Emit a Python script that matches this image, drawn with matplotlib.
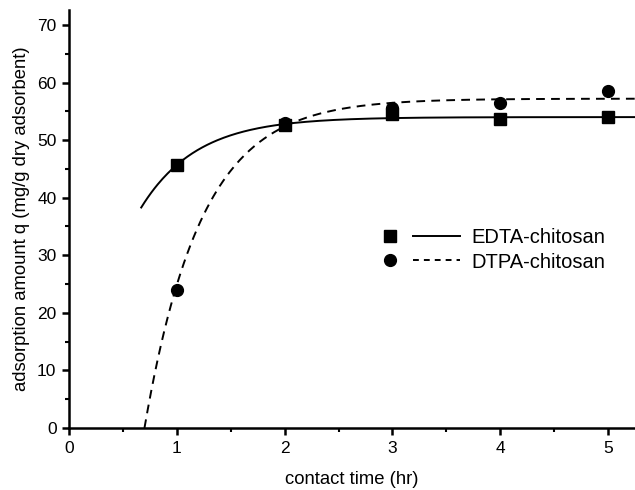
import numpy as np
import matplotlib
matplotlib.use("Agg")
import matplotlib.pyplot as plt
from matplotlib.lines import Line2D
from matplotlib.legend_handler import HandlerBase

plt.rcParams['font.family'] = ['Liberation Sans', 'DejaVu Sans']

# measured data
time_hr = [1, 2, 3, 4, 5]
edta_q = [45.7, 52.7, 54.5, 53.6, 54.0]
dtpa_q = [24.0, 53.0, 55.6, 56.5, 58.5]
series_labels = ['EDTA-chitosan', 'DTPA-chitosan']

# fitted kinetic model parameters: qe, k, t0
edta_fit = dict(qe=54.0, k=1.93, t0=0.03, tstart=0.67)
dtpa_fit = dict(qe=57.2, k=1.9, t0=0.70, tstart=0.70)

xticks = [0, 1, 2, 3, 4, 5]
yticks = [0, 10, 20, 30, 40, 50, 60, 70]

fig = plt.figure(figsize=(6.35, 4.9), dpi=100)
ax = fig.add_axes([69/635, 1-428/490, 1-69/635, (428-10)/490])

def model(p, t):
    return p['qe'] * (1 - np.exp(-p['k'] * (t - p['t0'])))

DASH = (4.5, 3.2)
t1 = np.linspace(edta_fit['tstart'], 5.25, 300)
t2 = np.linspace(dtpa_fit['tstart'], 5.25, 300)
ax.plot(t1, model(edta_fit, t1), color='black', lw=1.4)
ax.plot(t2, model(dtpa_fit, t2), color='black', lw=1.4, dashes=DASH)
ax.plot(time_hr, edta_q, 's', color='black', ms=8)
ax.plot(time_hr, dtpa_q, 'o', color='black', ms=8.5)

ax.set_xlim(0, 5.25)
ax.set_ylim(0, 72.6)
ax.set_xticks(xticks)
ax.set_yticks(yticks)
ax.set_xticks(np.arange(0.5, 5.25, 1.0), minor=True)
ax.set_yticks(np.arange(5, 72, 10), minor=True)
ax.tick_params(which='major', direction='out', length=5, width=1.8, labelsize=12.5, pad=4)
ax.tick_params(which='minor', direction='out', length=3, width=1.5)
for s in ['top', 'right']:
    ax.spines[s].set_visible(False)
for s in ['left', 'bottom']:
    ax.spines[s].set_linewidth(1.8)

ax.set_xlabel('contact time (hr)', fontsize=13.3, labelpad=11)
ax.set_ylabel('adsorption amount q (mg/g dry adsorbent)', fontsize=13.3, labelpad=5)


class MarkerLineHandler(HandlerBase):
    def create_artists(self, legend, orig_handle, xdescent, ydescent,
                       width, height, fontsize, trans):
        marker, ms, dashes = orig_handle
        y = height / 2 - ydescent
        m = Line2D([-xdescent + 0.07 * width], [y], marker=marker, ms=ms,
                   color='black', ls='none')
        kw = dict(color='black', lw=1.4)
        if dashes is not None:
            kw['dashes'] = dashes
        ln = Line2D([-xdescent + 0.37 * width, -xdescent + width], [y, y], **kw)
        m.set_transform(trans)
        ln.set_transform(trans)
        return [m, ln]


leg_handles = [('s', 8, None), ('o', 8.5, (3.0, 2.6))]
ax.legend(leg_handles, series_labels,
          handler_map={tuple: MarkerLineHandler()},
          loc='center left', bbox_to_anchor=((385 - 69) / 566, (428 - 250) / 418),
          frameon=False, borderpad=0, borderaxespad=0,
          fontsize=14.5, handlelength=3.7, handletextpad=0.6, labelspacing=0.25)

fig.savefig('out.png', dpi=100)
